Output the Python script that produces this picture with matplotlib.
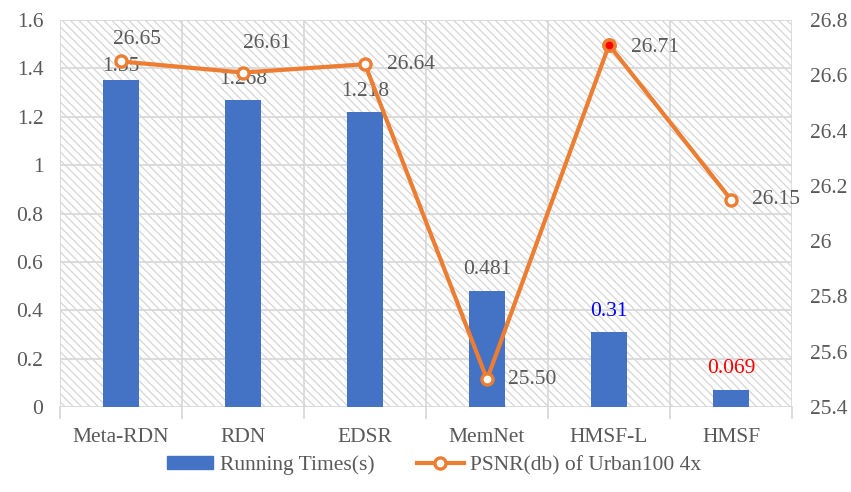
import matplotlib
matplotlib.use("Agg")
import matplotlib.pyplot as plt
from matplotlib.patches import Rectangle
from matplotlib.lines import Line2D
import numpy as np

plt.rcParams['font.family'] = ['Liberation Serif', 'DejaVu Serif']
plt.rcParams['hatch.linewidth'] = 0.9
plt.rcParams['hatch.color'] = '#D6D6D6'

models = ["Meta-RDN", "RDN", "EDSR", "MemNet", "HMSF-L", "HMSF"]
run_times = [1.35, 1.268, 1.218, 0.481, 0.31, 0.069]
run_labels = ["1.35", "1.268", "1.218", "0.481", "0.31", "0.069"]
psnr = [26.65, 26.61, 26.64, 25.50, 26.71, 26.15]
psnr_labels = ["26.65", "26.61", "26.64", "25.50", "26.71", "26.15"]

bar_color = "#4472C4"
line_color = "#ED7D31"
text_color = "#595959"
grid_color = "#D9D9D9"
fs = 15.5

fig = plt.figure(figsize=(8.51, 4.92), dpi=100)
ax = fig.add_axes([0.0705, 0.1728, 0.8602, 0.7865])
x = np.arange(len(models))

ax.set_xlim(-0.5, len(models) - 0.5)
ax.set_ylim(0, 1.6)

# hatched plot-area background
bg = Rectangle((0, 0), 1, 1, transform=ax.transAxes, facecolor='white',
               edgecolor='#D6D6D6', hatch='\\\\\\\\', linewidth=0, zorder=0)
ax.add_patch(bg)

ax.set_yticks(np.arange(0, 1.61, 0.2))
ax.set_yticklabels(["0", "0.2", "0.4", "0.6", "0.8", "1", "1.2", "1.4", "1.6"])
for yv in np.arange(0.2, 1.61, 0.2):
    ax.axhline(yv, color=grid_color, lw=1.3, zorder=1)
for xv in np.arange(-0.5, len(models), 1.0):
    ax.axvline(xv, color=grid_color, lw=1.3, zorder=1)
    ax.plot([xv, xv], [0, -0.045], color=grid_color, lw=1.3, clip_on=False, zorder=1)

ax.bar(x, run_times, width=0.29, color=bar_color, zorder=2, label="Running Times(s)")
label_colors = [text_color, text_color, text_color, text_color, "#0000FF", "#FF0000"]
bar_label_dy = [10, 15, 15, 15, 15, 16]
for xi, v, s, c, dy in zip(x, run_times, run_labels, label_colors, bar_label_dy):
    ax.annotate(s, (xi, v), xytext=(0, dy), textcoords='offset points',
                ha='center', va='center', fontsize=fs, color=c, zorder=5)

ax.set_xticks(x)
ax.set_xticklabels(models)
ax.tick_params(axis='both', length=0, labelsize=fs, colors=text_color)
ax.tick_params(axis='y', pad=12)
ax.tick_params(axis='x', pad=15)
for sp in ax.spines.values():
    sp.set_visible(False)
ax.axhline(0, color=grid_color, lw=1.3, zorder=1)

ax2 = ax.twinx()
ax2.set_ylim(25.4, 26.8)
ax2.set_yticks(np.arange(25.4, 26.81, 0.2))
ax2.set_yticklabels(["25.4", "25.6", "25.8", "26", "26.2", "26.4", "26.6", "26.8"])
ax2.tick_params(axis='y', length=0, labelsize=fs, colors=text_color, pad=13)
for sp in ax2.spines.values():
    sp.set_visible(False)

ax2.plot(x, psnr, color=line_color, lw=3, marker='o', ms=8, mfc='white',
         mec=line_color, mew=2.4, zorder=4)
ax2.plot([x[4]], [psnr[4]], marker='o', ms=8, mfc='#FF0000', mec=line_color,
         mew=2.4, ls='none', zorder=5)

# label offsets in points: (dx, dy, ha)
offsets = [(-6, 16, 'left'), (0, 21, 'left'), (16, 0, 'left'),
           (15, 0, 'left'), (16, -2, 'left'), (15, 0, 'left')]
for xi, v, s, (dx, dy, ha) in zip(x, psnr, psnr_labels, offsets):
    ax2.annotate(s, (xi, v), xytext=(dx, dy), textcoords='offset points',
                 ha=ha, va='center', fontsize=fs, color=text_color, zorder=6)

handles = [Rectangle((0, 0), 1, 1, color=bar_color),
           Line2D([], [], color=line_color, lw=3, marker='o', ms=8,
                  mfc='white', mec=line_color, mew=2.4)]
fig.legend(handles, ["Running Times(s)", "PSNR(db) of Urban100 4x"],
           loc='lower center', bbox_to_anchor=(0.51, -0.005), ncol=2,
           frameon=False, fontsize=fs, labelcolor=text_color,
           handlelength=2.15, handleheight=0.5, columnspacing=2.0,
           handletextpad=0.3)

fig.savefig("out.png", dpi=100)
